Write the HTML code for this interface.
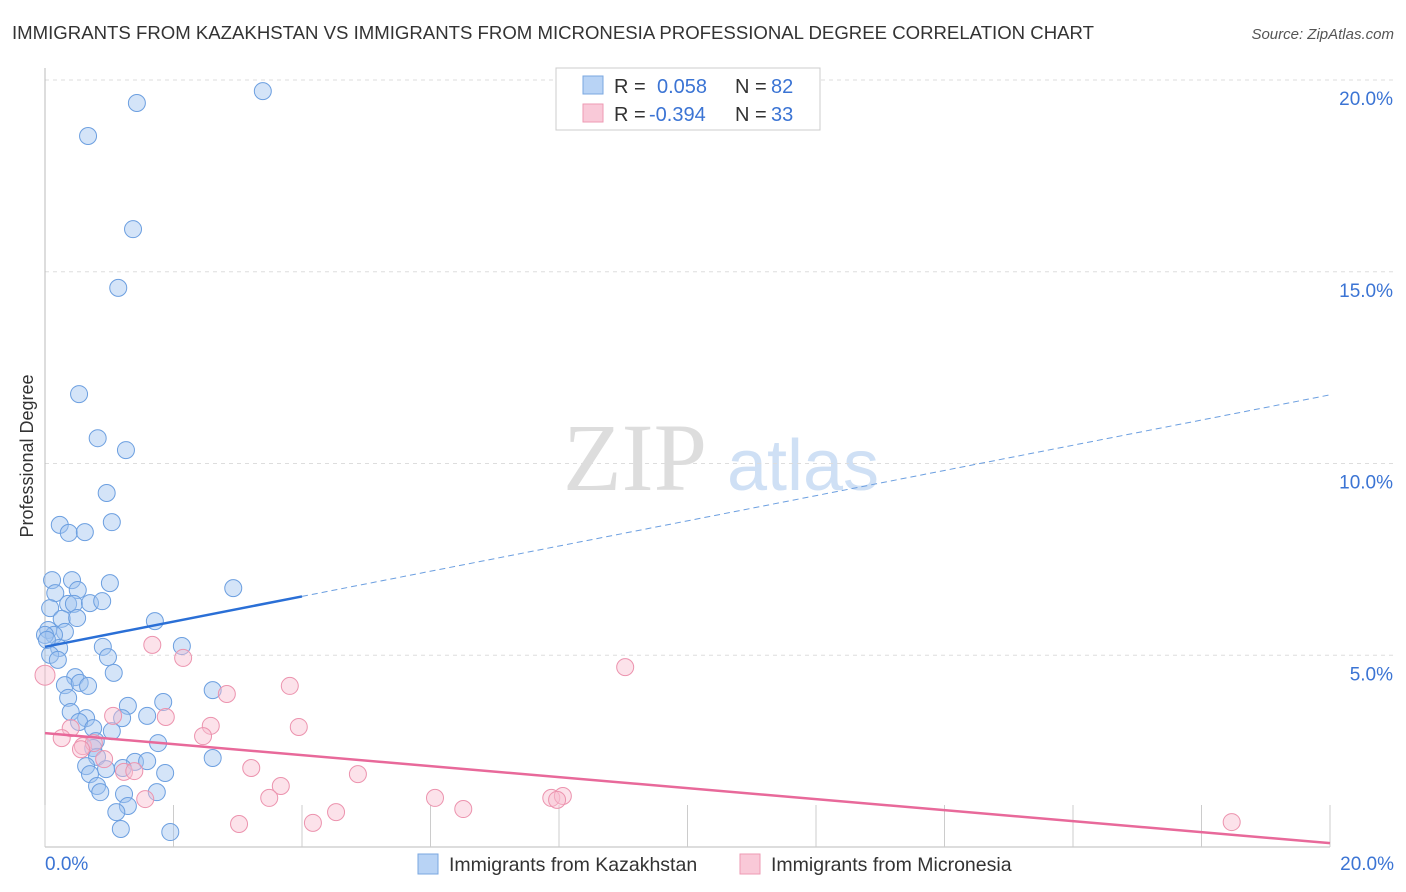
<!DOCTYPE html>
<html><head><meta charset="utf-8"><style>
body{margin:0;background:#fff;font-family:"Liberation Sans",sans-serif}
svg{display:block}
</style></head><body>
<svg id="c" width="1406" height="892" xmlns="http://www.w3.org/2000/svg">
<text x="12" y="39" font-size="18.6" fill="#333">IMMIGRANTS FROM KAZAKHSTAN VS IMMIGRANTS FROM MICRONESIA PROFESSIONAL DEGREE CORRELATION CHART</text>
<text x="1394" y="39" font-size="15" fill="#555" font-style="italic" text-anchor="end">Source: ZipAtlas.com</text>
<text x="33" y="456" font-size="18" fill="#333" text-anchor="middle" transform="rotate(-90 33 456)">Professional Degree</text>
<g><text x="635" y="490" font-size="96" fill="#ddd" font-family="Liberation Serif" text-anchor="middle">ZIP</text><text x="803" y="490" font-size="72" fill="#cfe0f5" text-anchor="middle">atlas</text></g>
<g id="grid"></g><g id="axes"></g><g id="pts"></g><g id="lines"></g>
<g>
<rect x="556" y="68" width="264" height="62" fill="#fff" stroke="#ccc"/>
<rect x="583" y="76" width="20" height="18" fill="#b8d3f5" stroke="#7aa7e0"/>
<rect x="583" y="104" width="20" height="18" fill="#f9c9d8" stroke="#ee9ab3"/>
<text x="614" y="93" font-size="20" fill="#333">R =</text><text x="657" y="93" font-size="20" fill="#3b74d4">0.058</text>
<text x="735" y="93" font-size="20" fill="#333">N =</text><text x="771" y="93" font-size="20" fill="#3b74d4">82</text>
<text x="614" y="121" font-size="20" fill="#333">R =</text><text x="649" y="121" font-size="20" fill="#3b74d4">-0.394</text>
<text x="735" y="121" font-size="20" fill="#333">N =</text><text x="771" y="121" font-size="20" fill="#3b74d4">33</text>
</g>
<g>
<rect x="418" y="854" width="20" height="20" fill="#b8d3f5" stroke="#7aa7e0"/>
<text x="449" y="871" font-size="19.5" fill="#333">Immigrants from Kazakhstan</text>
<rect x="740" y="854" width="20" height="20" fill="#f9c9d8" stroke="#ee9ab3"/>
<text x="771" y="871" font-size="19.5" fill="#333">Immigrants from Micronesia</text>
</g>
</svg>
<script>
const yTicks=[5,10,15,20];
const xTickLabels=["0.0%","20.0%"];
const blueX=[3.39,1.43,0.67,1.37,1.14,0.53,0.82,1.26,0.96,1.04,0.23,0.37,0.62,0.11,0.42,1.01,2.93,0.16,0.51,0.08,0.36,0.45,0.70,0.89,1.71,0.26,0.50,0.05,0.31,0.14,0.22,0.90,2.13,0.08,0.20,0.98,1.07,0.47,0.31,0.54,0.67,2.61,1.84,0.36,0.40,1.29,0.64,0.53,1.20,1.59,0.75,1.04,0.79,1.76,0.75,0.81,2.61,1.40,1.59,0.64,0.95,1.21,1.87,0.70,0.81,0.86,1.23,1.74,1.29,1.11,1.18,1.95,0.0,0.03];
const blueY=[19.71,19.40,18.54,16.11,14.58,11.81,10.66,10.35,9.23,8.47,8.40,8.19,8.21,6.96,6.96,6.88,6.75,6.62,6.70,6.23,6.34,6.34,6.36,6.41,5.89,5.95,5.97,5.66,5.61,5.53,5.19,5.22,5.24,5.01,4.88,4.95,4.54,4.43,4.22,4.28,4.20,4.09,3.78,3.89,3.52,3.68,3.36,3.26,3.36,3.42,3.10,3.02,2.76,2.71,2.58,2.35,2.32,2.22,2.24,2.11,2.03,2.06,1.93,1.90,1.59,1.43,1.38,1.43,1.07,0.91,0.47,0.39,5.53,5.40];
const pinkX=[0,9.03,1.67,2.15,2.83,3.81,1.88,3.95,2.58,2.46,1.06,0.40,0.26,0.59,0.76,0.92,1.23,1.39,3.21,3.67,4.87,3.49,1.56,6.07,6.51,7.88,8.06,7.97,4.53,4.17,3.02,18.47,0.56];
const pinkY=[4.48,4.69,5.27,4.93,3.99,4.20,3.39,3.13,3.16,2.89,3.42,3.10,2.84,2.63,2.71,2.29,1.96,1.98,2.06,1.59,1.90,1.28,1.25,1.28,0.99,1.28,1.33,1.23,0.91,0.63,0.60,0.65,2.55];
const blueLine=[5.22,0.3285];
const pinkLine=[2.97,-0.1435];
const X0=45,X1=1330,Y0=847,PX=(X1-X0)/20,PY=38.35;
const sx=v=>X0+v*PX, sy=v=>Y0-v*PY;
const NS="http://www.w3.org/2000/svg";
function mk(p,t,a){const e=document.createElementNS(NS,t);for(const k in a)e.setAttribute(k,a[k]);p.appendChild(e);return e;}
const grid=document.getElementById('grid'),axes=document.getElementById('axes');
yTicks.forEach(t=>{
 const l=mk(grid,'line',{x1:X0,x2:1394,y1:sy(t),y2:sy(t),stroke:'#ddd','stroke-dasharray':'4,4'});
 
 
 const tx=mk(grid,'text',{x:1393,y:sy(t)+25,'font-size':19,fill:'#3b74d4','text-anchor':'end'});
 tx.textContent=t.toFixed(1)+'%';
 
 
});
const ax=mk(axes,'line',{x1:X0,x2:X0,y1:68,y2:Y0,stroke:'#bbb'});


const bx=mk(axes,'line',{x1:X0,x2:X1,y1:Y0,y2:Y0,stroke:'#bbb'});


for(let i=0;i<=10;i++){
 const t=mk(axes,'line',{x1:sx(i*2),x2:sx(i*2),y1:805,y2:Y0,stroke:'#ccc'});
 
 
}
[[0,'start',45],[20,'end',1394]].forEach((d,i)=>{
 const t=mk(axes,'text',{x:d[2],y:870,'font-size':19,fill:'#3b74d4','text-anchor':d[1]});
 t.textContent=xTickLabels[i];
 
 
});
const pts=document.getElementById('pts');
blueX.forEach((x,i)=>{
 const c=mk(pts,'circle',{cx:sx(x),cy:sy(blueY[i]),r:8.5,fill:'rgba(160,196,240,0.45)',stroke:'#6c9fe0','stroke-width':1});
 
 
});
pinkX.forEach((x,i)=>{
 const c=mk(pts,'circle',{cx:sx(x),cy:sy(pinkY[i]),r:i==0?10:8.5,fill:'rgba(248,190,208,0.45)',stroke:'#ec93ae','stroke-width':1});
 
 
});
const lines=document.getElementById('lines');
const bl=v=>blueLine[0]+blueLine[1]*v, pl=v=>pinkLine[0]+pinkLine[1]*v;
let e=mk(lines,'line',{x1:sx(0),y1:sy(bl(0)),x2:sx(4),y2:sy(bl(4)),stroke:'#2a6fd6','stroke-width':2.5});


e=mk(lines,'line',{x1:sx(4),y1:sy(bl(4)),x2:sx(20),y2:sy(bl(20)),stroke:'#6c9fe0','stroke-width':1,'stroke-dasharray':'6,4'});


e=mk(lines,'line',{x1:sx(0),y1:sy(pl(0)),x2:sx(20),y2:sy(pl(20)),stroke:'#e8699a','stroke-width':2.5});


</script>
</body></html>
